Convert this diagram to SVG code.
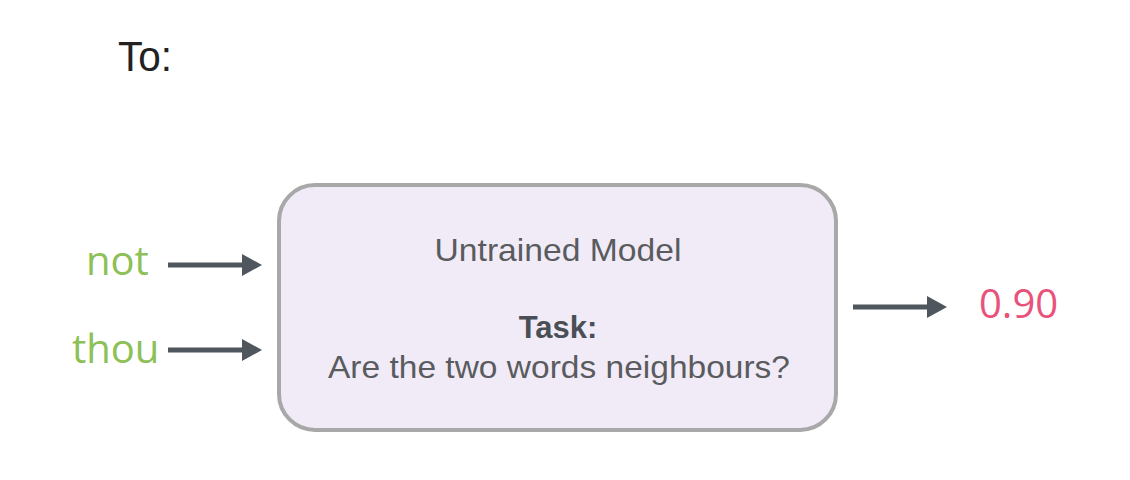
<svg xmlns="http://www.w3.org/2000/svg" width="1130" height="480" viewBox="0 0 1130 480">
<defs>
<style>
.lbl{font-family:"Liberation Sans",Arial,sans-serif;fill:#5a5b5e}
.word{font-family:"Open Sans","Noto Sans",sans-serif;font-size:40px}
.conn{stroke:#4f565e;stroke-width:5;fill:none;marker-end:url(#ah)}
</style>
<marker id="ah" markerUnits="userSpaceOnUse" markerWidth="22" markerHeight="24" refX="13" refY="12" orient="auto">
<path d="M0,1 L20,12 L0,23 Z" fill="#4f565e"/>
</marker>
</defs>
<rect width="1130" height="480" fill="#ffffff"/>
<text x="118" y="71" font-family="Liberation Sans,Arial,sans-serif" font-size="42" fill="#222" textLength="54" lengthAdjust="spacingAndGlyphs">To:</text>
<g id="model">
<rect x="279" y="185" width="557" height="245" rx="36" ry="36" fill="#f1ebf8" stroke="#a7a8a7" stroke-width="4"/>
<text class="lbl" x="558" y="261" font-size="32" text-anchor="middle" textLength="247" lengthAdjust="spacingAndGlyphs">Untrained Model</text>
<text class="lbl" x="558" y="338" font-size="31" font-weight="bold" style="fill:#4a4f55" text-anchor="middle">Task:</text>
<text class="lbl" x="559" y="378" font-size="32" text-anchor="middle" textLength="462" lengthAdjust="spacingAndGlyphs">Are the two words neighbours?</text>
</g>
<g id="input-not"><text class="word" x="86" y="275" fill="#8dc057">not</text></g>
<g id="input-thou"><text class="word" x="72" y="363" fill="#8dc057">thou</text></g>
<g id="output"><text class="word" x="979" y="318" fill="#e8527b">0.90</text></g>
<g id="connectors">
<line class="conn" x1="168" y1="265" x2="255" y2="265"/>
<line class="conn" x1="168" y1="350" x2="255" y2="350"/>
<line class="conn" x1="853" y1="307" x2="940" y2="307"/>
</g>
</svg>
